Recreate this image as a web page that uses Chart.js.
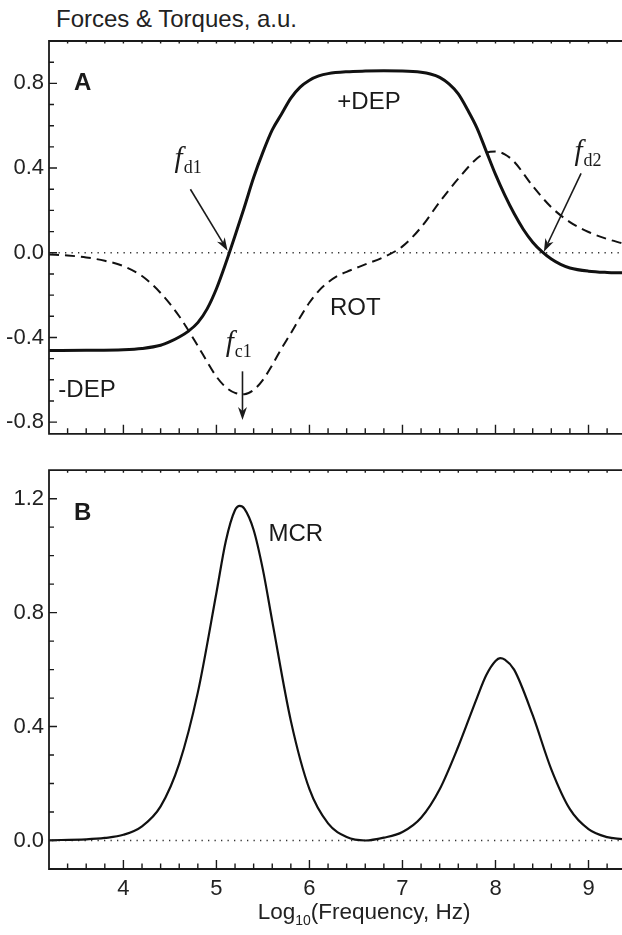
<!DOCTYPE html>
<html>
<head>
<meta charset="utf-8">
<script src="https://cdn.jsdelivr.net/npm/chart.js@4.4.0/dist/chart.umd.min.js"></script>
<style>
    body { margin: 0; background: #fff; width: 622px; height: 935px; overflow: hidden; position: relative;
           font-family: "Liberation Sans", Arial, sans-serif; color: #222; }
    #titulo { position: absolute; left: 56px; top: 5px; font-size: 24px; white-space: nowrap; }
    #eje-x { position: absolute; left: 59px; width: 610px; top: 899px; text-align: center; font-size: 22.5px; white-space: nowrap; }
    #eje-x sub { font-size: 14px; vertical-align: -6px; }
    canvas { position: absolute; left: 0; }
    #grafico-a { top: 0; }
    #grafico-b { top: 452px; }
</style>
</head>
<body>
<div id="titulo">Forces &amp; Torques, a.u.</div>
<canvas id="grafico-a" width="622" height="452"></canvas>
<canvas id="grafico-b" width="622" height="483"></canvas>
<div id="eje-x">Log<sub>10</sub>(Frequency, Hz)</div>

<script>
// DATOS
const frecuenciaDEP = [3.2, 3.6, 4.0, 4.2, 4.4, 4.5, 4.6, 4.7, 4.8, 4.9, 5.0, 5.1, 5.2, 5.3, 5.4, 5.5, 5.6, 5.7, 5.8, 5.9,
    6.0, 6.1, 6.2, 6.4, 6.6, 6.8, 7.0, 7.2, 7.3, 7.4, 7.5, 7.6, 7.7, 7.8, 7.9, 8.0, 8.1, 8.2, 8.3, 8.4, 8.5, 8.6, 8.7,
    8.8, 9.0, 9.2, 9.36];
const valoresDEP = [-0.462, -0.461, -0.458, -0.452, -0.437, -0.42, -0.398, -0.37, -0.33, -0.265, -0.17, -0.05, 0.08,
    0.215, 0.355, 0.475, 0.58, 0.655, 0.73, 0.782, 0.815, 0.835, 0.846, 0.855, 0.858, 0.859, 0.858, 0.852, 0.844, 0.828,
    0.797, 0.75, 0.675, 0.59, 0.48, 0.37, 0.272, 0.185, 0.11, 0.05, 0.005, -0.03, -0.055, -0.072, -0.087, -0.093, -0.095];

const frecuenciaROT = [3.2, 3.4, 3.6, 3.8, 4.0, 4.2, 4.4, 4.6, 4.8, 4.9, 5.0, 5.1, 5.2, 5.3, 5.4, 5.5, 5.6, 5.7, 5.8, 5.9,
    6.0, 6.1, 6.2, 6.3, 6.4, 6.6, 6.8, 7.0, 7.2, 7.4, 7.6, 7.8, 7.9, 8.0, 8.1, 8.2, 8.4, 8.6, 8.8, 9.0, 9.2, 9.36];
const valoresROT = [-0.008, -0.013, -0.022, -0.038, -0.063, -0.11, -0.19, -0.3, -0.44, -0.515, -0.585, -0.635, -0.662,
    -0.668, -0.648, -0.6, -0.53, -0.452, -0.38, -0.305, -0.235, -0.18, -0.14, -0.11, -0.09, -0.055, -0.02, 0.03, 0.12,
    0.24, 0.35, 0.445, 0.472, 0.478, 0.465, 0.43, 0.315, 0.215, 0.145, 0.098, 0.065, 0.045];

const frecuenciaMCR = [3.2, 3.6, 3.8, 4.0, 4.2, 4.4, 4.6, 4.8, 5.0, 5.1, 5.2, 5.25, 5.3, 5.4, 5.5, 5.6, 5.8, 6.0, 6.2,
    6.4, 6.6, 6.8, 7.0, 7.2, 7.4, 7.6, 7.8, 7.9, 8.0, 8.05, 8.1, 8.2, 8.4, 8.6, 8.8, 9.0, 9.2, 9.36];
const valoresMCR = [0.001, 0.004, 0.009, 0.02, 0.05, 0.12, 0.27, 0.52, 0.87, 1.05, 1.16, 1.175, 1.165, 1.09, 0.95, 0.77,
    0.42, 0.18, 0.06, 0.012, 0.0, 0.01, 0.03, 0.08, 0.18, 0.33, 0.5, 0.58, 0.63, 0.64, 0.635, 0.6, 0.44, 0.25, 0.11, 0.04,
    0.012, 0.005];

const ticksX = [4, 5, 6, 7, 8, 9];
const ticksYA = [-0.8, -0.4, 0, 0.4, 0.8];
const ticksYB = [0, 0.4, 0.8, 1.2];

// ANOTACIONES (posiciones en unidades de los ejes)
const textosA = [
    { texto: 'A', x: 3.47, y: 0.8, negrita: true },
    { texto: '+DEP', x: 6.64, y: 0.71, centro: true },
    { texto: '-DEP', x: 3.3, y: -0.65 },
    { texto: 'ROT', x: 6.22, y: -0.265 }
];
const etiquetasF = [
    { sub: 'd1', x: 4.55, y: 0.405 },
    { sub: 'c1', x: 5.1, y: -0.465 },
    { sub: 'd2', x: 8.85, y: 0.44 }
];
const flechasA = [
    { x1: 4.72, y1: 0.30, x2: 5.12, y2: 0.01 },
    { x1: 5.28, y1: -0.56, x2: 5.28, y2: -0.79 },
    { x1: 8.92, y1: 0.375, x2: 8.52, y2: 0.005 }
];
const textosB = [
    { texto: 'B', x: 3.47, y: 1.15, negrita: true },
    { texto: 'MCR', x: 5.56, y: 1.075 }
];

const fuente = '"Liberation Sans", Arial, sans-serif';
const tinta = '#1a1a1a';

function puntos(xs, ys) {
    return xs.map((x, i) => ({ x: x, y: ys[i] }));
}

function dibujarFlecha(ctx, x1, y1, x2, y2) {
    const ang = Math.atan2(y2 - y1, x2 - x1);
    const largo = 13, ancho = 4.5;
    ctx.beginPath();
    ctx.moveTo(x1, y1);
    ctx.lineTo(x2 - Math.cos(ang) * largo * 0.7, y2 - Math.sin(ang) * largo * 0.7);
    ctx.stroke();
    ctx.save();
    ctx.translate(x2, y2);
    ctx.rotate(ang);
    ctx.beginPath();
    ctx.moveTo(0, 0);
    ctx.lineTo(-largo, -ancho);
    ctx.lineTo(-largo * 0.7, 0);
    ctx.lineTo(-largo, ancho);
    ctx.closePath();
    ctx.fill();
    ctx.restore();
}

// marco, ticks hacia adentro, linea punteada en cero y textos
const pluginMarco = {
    id: 'marco',
    beforeDatasetsDraw(chart) {
        const { ctx, chartArea: a, scales: { y } } = chart;
        const y0 = y.getPixelForValue(0);
        ctx.save();
        ctx.strokeStyle = '#333';
        ctx.lineWidth = 1.3;
        ctx.setLineDash([1.3, 5.2]);
        ctx.beginPath();
        ctx.moveTo(a.left + 3, y0);
        ctx.lineTo(a.right, y0);
        ctx.stroke();
        ctx.restore();
    },
    afterDatasetsDraw(chart, args, opciones) {
        const { ctx, chartArea: a, scales: { x, y } } = chart;
        ctx.save();
        ctx.strokeStyle = tinta;
        ctx.fillStyle = tinta;
        ctx.lineWidth = 1.8;
        ctx.beginPath();
        ctx.moveTo(a.right + 2, a.top);
        ctx.lineTo(a.left, a.top);
        ctx.lineTo(a.left, a.bottom);
        ctx.lineTo(a.right + 2, a.bottom);
        ctx.stroke();

        ctx.lineWidth = 1.4;
        ctx.beginPath();
        for (let v = 3.4; v < x.max + 0.01; v += 0.2) {
            const px = x.getPixelForValue(v);
            const mayor = Math.abs(v - Math.round(v)) < 0.01;
            ctx.moveTo(px, a.bottom);
            ctx.lineTo(px, a.bottom - (mayor ? 9 : 5.5));
            ctx.moveTo(px, a.top);
            ctx.lineTo(px, a.top + 2.5);
        }
        const paso = 0.1;
        for (let v = Math.ceil(y.min / paso) * paso; v < y.max - 0.01; v += paso) {
            const py = y.getPixelForValue(v);
            const mayor = Math.abs(v / 0.4 - Math.round(v / 0.4)) < 0.01;
            ctx.moveTo(a.left, py);
            ctx.lineTo(a.left + (mayor ? 8 : 5), py);
        }
        ctx.stroke();

        ctx.textBaseline = 'middle';
        (opciones.textos || []).forEach(t => {
            ctx.font = (t.negrita ? 'bold ' : '') + '24px ' + fuente;
            ctx.textAlign = t.centro ? 'center' : 'left';
            ctx.fillText(t.texto, x.getPixelForValue(t.x), y.getPixelForValue(t.y));
        });

        ctx.textBaseline = 'alphabetic';
        ctx.textAlign = 'left';
        (opciones.etiquetas || []).forEach(t => {
            const px = x.getPixelForValue(t.x);
            const py = y.getPixelForValue(t.y);
            ctx.font = 'italic 29px "Liberation Serif", "DejaVu Serif", serif';
            ctx.fillText('f', px, py);
            const w = ctx.measureText('f').width;
            ctx.font = '18px "Liberation Serif", "DejaVu Serif", serif';
            ctx.fillText(t.sub, px + w + 1, py + 6);
        });

        ctx.lineWidth = 1.6;
        (opciones.flechas || []).forEach(f => {
            dibujarFlecha(ctx, x.getPixelForValue(f.x1), y.getPixelForValue(f.y1),
                x.getPixelForValue(f.x2), y.getPixelForValue(f.y2));
        });
        ctx.restore();
    }
};

function ejeY(min, max, lista) {
    return {
        type: 'linear', min: min, max: max,
        grid: { display: false, drawTicks: false },
        border: { display: false },
        afterFit: s => { s.width = 49; },
        afterBuildTicks: s => { s.ticks = lista.map(v => ({ value: v })); },
        ticks: { padding: 5, color: '#222', font: { family: fuente, size: 22 }, callback: v => v.toFixed(1) }
    };
}

function graficarPanelA() {
    const ctx = document.getElementById('grafico-a').getContext('2d');
    new Chart(ctx, {
        type: 'scatter',
        data: {
            datasets: [{
                label: 'DEP',
                data: puntos(frecuenciaDEP, valoresDEP),
                showLine: true,
                borderColor: '#111',
                borderWidth: 3,
                pointRadius: 0,
                cubicInterpolationMode: 'monotone'
            }, {
                label: 'ROT',
                data: puntos(frecuenciaROT, valoresROT),
                showLine: true,
                borderColor: '#111',
                borderWidth: 2,
                borderDash: [10, 6],
                pointRadius: 0,
                cubicInterpolationMode: 'monotone'
            }]
        },
        options: {
            responsive: false,
            animation: false,
            layout: { padding: { top: 41, bottom: 11, left: 0, right: 0 } },
            plugins: {
                legend: { display: false },
                tooltip: { enabled: false },
                marco: { textos: textosA, etiquetas: etiquetasF, flechas: flechasA }
            },
            scales: {
                x: { type: 'linear', display: false, min: 3.2, max: 9.36 },
                y: ejeY(-0.855, 1.0, ticksYA)
            }
        },
        plugins: [pluginMarco]
    });
}

function graficarPanelB() {
    const ctx = document.getElementById('grafico-b').getContext('2d');
    new Chart(ctx, {
        type: 'scatter',
        data: {
            datasets: [{
                label: 'MCR',
                data: puntos(frecuenciaMCR, valoresMCR),
                showLine: true,
                borderColor: '#111',
                borderWidth: 2.2,
                pointRadius: 0,
                cubicInterpolationMode: 'monotone'
            }]
        },
        options: {
            responsive: false,
            animation: false,
            layout: { padding: { top: 17, bottom: 0, left: 0, right: 0 } },
            plugins: {
                legend: { display: false },
                tooltip: { enabled: false },
                marco: { textos: textosB }
            },
            scales: {
                x: {
                    type: 'linear', min: 3.2, max: 9.36,
                    grid: { display: false, drawTicks: false },
                    border: { display: false },
                    afterFit: s => { s.height = 66; },
                    afterBuildTicks: s => { s.ticks = ticksX.map(v => ({ value: v })); },
                    ticks: { padding: 7, color: '#222', font: { family: fuente, size: 22 }, maxRotation: 0 }
                },
                y: ejeY(-0.1, 1.3, ticksYB)
            }
        },
        plugins: [pluginMarco]
    });
}

graficarPanelA();
graficarPanelB();
</script>
</body>
</html>
